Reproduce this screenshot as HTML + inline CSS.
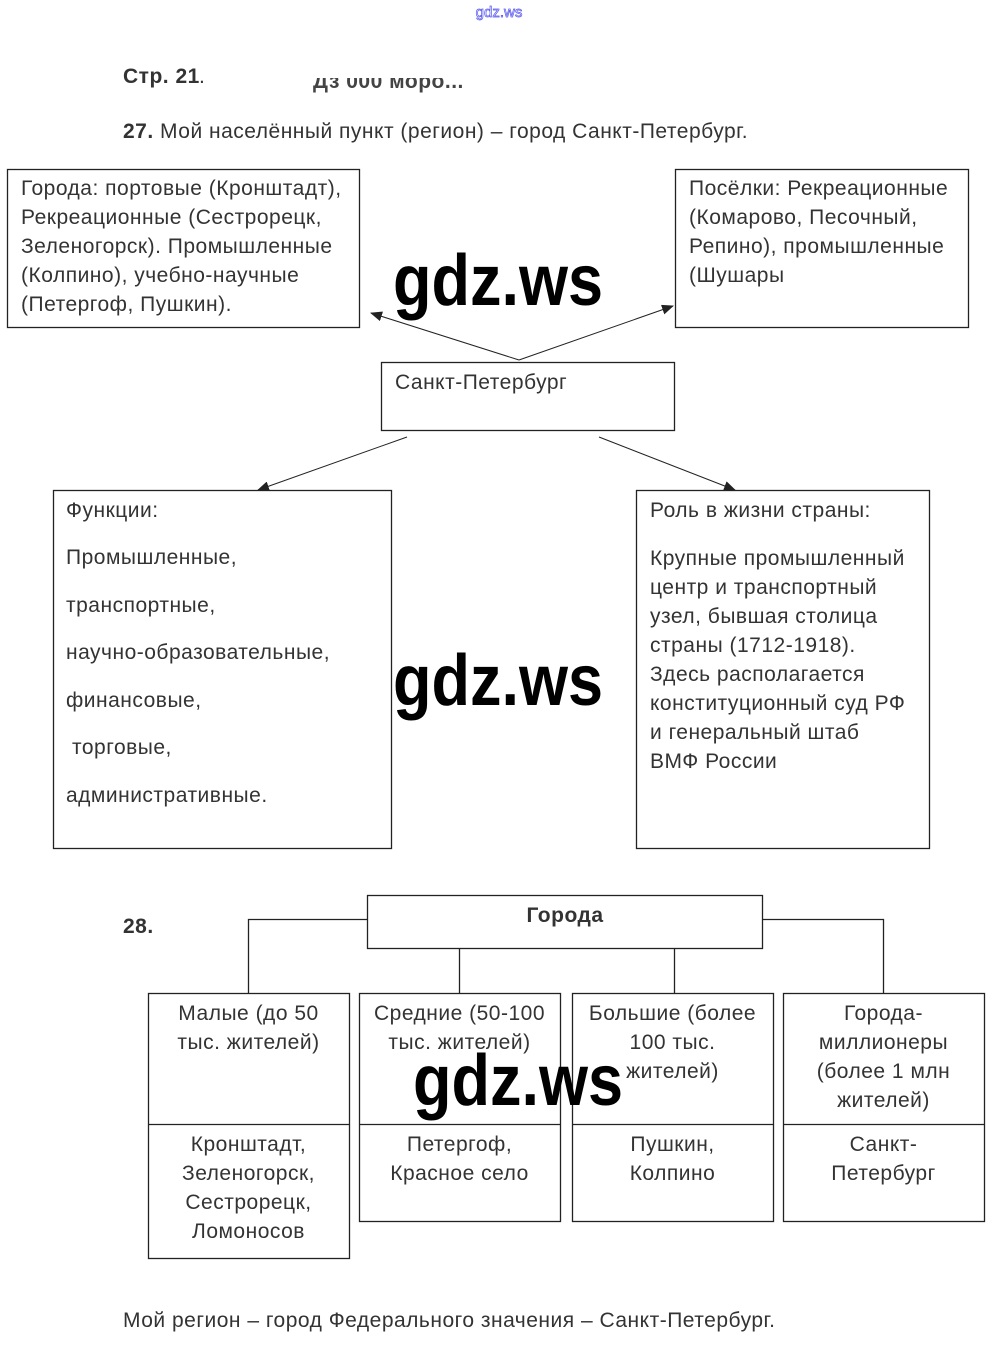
<!DOCTYPE html>
<html><head><meta charset="utf-8"><style>
html,body{margin:0;padding:0;background:#fff;width:998px;height:1350px;overflow:hidden}
svg{display:block}
text{font-family:"Liberation Sans",sans-serif;font-size:21px;letter-spacing:0.5px;fill:#333}
.b{font-weight:bold}
.c{text-anchor:middle}
.wm{font-family:"Liberation Sans Narrow","Liberation Sans",sans-serif;font-size:72px;font-weight:bold;letter-spacing:0;fill:#000}
</style></head><body>
<svg width="998" height="1350" viewBox="0 0 998 1350" xmlns="http://www.w3.org/2000/svg">
<defs><marker id="a" markerWidth="12" markerHeight="10" refX="11" refY="5" orient="auto" markerUnits="userSpaceOnUse"><path d="M0,0 L12,5 L0,10 z" fill="#222"/></marker></defs>
<text x="499" y="17" class="c" style="font-size:15px;letter-spacing:0;fill:#fff;stroke:#5555ee;stroke-width:0.7">gdz.ws</text>
<text x="123" y="83" class="b">Стр. 21</text><text x="199" y="83">.</text>
<text x="313" y="88" class="b" style="fill:#444">Дз 000 моро...</text>
<rect x="310" y="60" width="180" height="18" fill="#fff"/>
<text x="123" y="138"><tspan class="b">27.</tspan> Мой населённый пункт (регион)  – город Санкт-Петербург.</text>
<g fill="none" stroke="#222" stroke-width="1.3">
<rect x="7.5" y="169.5" width="352" height="158"/>
<rect x="675.5" y="169.5" width="293" height="158"/>
<rect x="381.5" y="362.5" width="293" height="68"/>
<rect x="53.5" y="490.5" width="338" height="358"/>
<rect x="636.5" y="490.5" width="293" height="358"/>
<rect x="367.5" y="895.5" width="395" height="53"/>
<rect x="148.5" y="993.5" width="201" height="265"/><line x1="148" y1="1124.5" x2="349" y2="1124.5"/>
<rect x="359.5" y="993.5" width="201" height="228"/><line x1="359" y1="1124.5" x2="560" y2="1124.5"/>
<rect x="572.5" y="993.5" width="201" height="228"/><line x1="572" y1="1124.5" x2="773" y2="1124.5"/>
<rect x="783.5" y="993.5" width="201" height="228"/><line x1="783" y1="1124.5" x2="984" y2="1124.5"/>
<polyline points="367,919.5 248.5,919.5 248.5,993"/>
<polyline points="762,919.5 883.5,919.5 883.5,993"/>
<line x1="459.5" y1="948" x2="459.5" y2="993"/>
<line x1="674.5" y1="948" x2="674.5" y2="993"/>
<line x1="519" y1="360" x2="371" y2="313" stroke-width="1" marker-end="url(#a)"/>
<line x1="519" y1="360" x2="673" y2="306" stroke-width="1" marker-end="url(#a)"/>
<line x1="407" y1="437" x2="258" y2="490" stroke-width="1" marker-end="url(#a)"/>
<line x1="599" y1="437" x2="735" y2="490" stroke-width="1" marker-end="url(#a)"/>
</g>
<text x="21" y="195">Города: портовые (Кронштадт),</text>
<text x="21" y="224">Рекреационные (Сестрорецк,</text>
<text x="21" y="253">Зеленогорск). Промышленные</text>
<text x="21" y="282">(Колпино), учебно-научные</text>
<text x="21" y="311">(Петергоф, Пушкин).</text>
<text x="689" y="195">Посёлки: Рекреационные</text>
<text x="689" y="224">(Комарово, Песочный,</text>
<text x="689" y="253">Репино), промышленные</text>
<text x="689" y="282">(Шушары</text>
<text x="395" y="389">Санкт-Петербург</text>
<text x="66" y="517">Функции:</text>
<text x="66" y="564">Промышленные,</text>
<text x="66" y="612">транспортные,</text>
<text x="66" y="659">научно-образовательные,</text>
<text x="66" y="707">финансовые,</text>
<text x="72" y="754">торговые,</text>
<text x="66" y="802">административные.</text>
<text x="650" y="517">Роль в жизни страны:</text>
<text x="650" y="565">Крупные промышленный</text>
<text x="650" y="594">центр и транспортный</text>
<text x="650" y="623">узел, бывшая столица</text>
<text x="650" y="652">страны (1712-1918).</text>
<text x="650" y="681">Здесь располагается</text>
<text x="650" y="710">конституционный суд РФ</text>
<text x="650" y="739">и генеральный штаб</text>
<text x="650" y="768">ВМФ России</text>
<text x="123" y="933" class="b">28.</text>
<text x="565" y="922" class="b c">Города</text>
<text x="248.5" y="1020" class="c">Малые (до 50</text>
<text x="248.5" y="1049" class="c">тыс. жителей)</text>
<text x="459.5" y="1020" class="c">Средние (50-100</text>
<text x="459.5" y="1049" class="c">тыс. жителей)</text>
<text x="672.5" y="1020" class="c">Большие (более</text>
<text x="672.5" y="1049" class="c">100 тыс.</text>
<text x="672.5" y="1078" class="c">жителей)</text>
<text x="883.5" y="1020" class="c">Города-</text>
<text x="883.5" y="1049" class="c">миллионеры</text>
<text x="883.5" y="1078" class="c">(более 1 млн</text>
<text x="883.5" y="1107" class="c">жителей)</text>
<text x="248.5" y="1151" class="c">Кронштадт,</text>
<text x="248.5" y="1180" class="c">Зеленогорск,</text>
<text x="248.5" y="1209" class="c">Сестрорецк,</text>
<text x="248.5" y="1238" class="c">Ломоносов</text>
<text x="459.5" y="1151" class="c">Петергоф,</text>
<text x="459.5" y="1180" class="c">Красное село</text>
<text x="672.5" y="1151" class="c">Пушкин,</text>
<text x="672.5" y="1180" class="c">Колпино</text>
<text x="883.5" y="1151" class="c">Санкт-</text>
<text x="883.5" y="1180" class="c">Петербург</text>
<text x="123" y="1327">Мой регион – город Федерального значения – Санкт-Петербург.</text>
<text x="393" y="305" class="wm" textLength="210" lengthAdjust="spacingAndGlyphs">gdz.ws</text>
<text x="393" y="705" class="wm" textLength="210" lengthAdjust="spacingAndGlyphs">gdz.ws</text>
<text x="413" y="1105" class="wm" textLength="210" lengthAdjust="spacingAndGlyphs">gdz.ws</text>
</svg>
</body></html>
